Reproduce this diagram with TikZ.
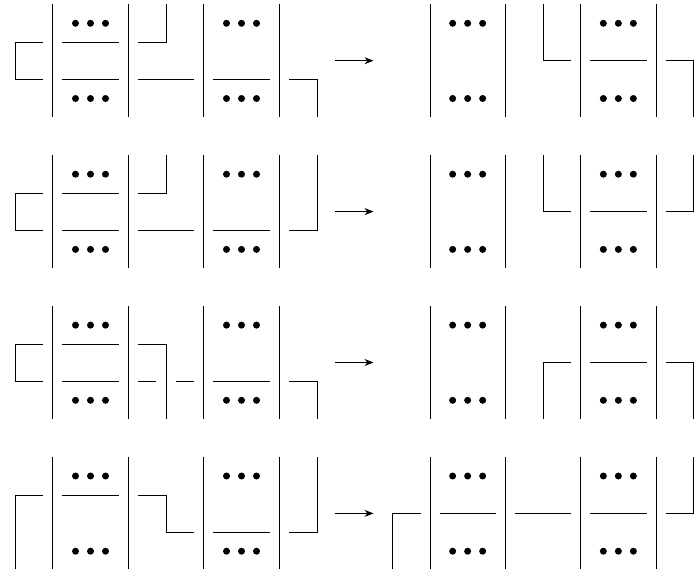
\documentclass[tikz,border=0pt]{standalone}
\usetikzlibrary{arrows.meta}
\newcommand\mydots[1]{%
  \foreach \yy in {19.3,94.5} {\foreach \dx in {-15,0,15} {\fill (#1+\dx,\yy) circle (3.5pt);}}}
\begin{document}
\begin{tikzpicture}[x=1pt,y=-1pt,
  wire/.style={draw=black,line width=0.9pt},
  sep/.style={draw=black,line width=0.9pt},
  arr/.style={draw=black,line width=0.9pt,-{Stealth[length=9pt,width=7pt]}}]
\useasboundingbox (0,0) rectangle (694,576);
\def\U{38.3}\def\M{56.7}\def\L{75.8}\def\B{112.7}
% columns: left 52.7,128.3,203.7,279.3 ; right 430,505.3,580.7,656
% ---------------- Row 1 ----------------
\begin{scope}[yshift=-4pt]
  \foreach \c in {52.7,128.3,203.7,279.3,430,505.3,580.7,656} \draw[sep] (\c,0) -- (\c,\B);
  \draw[wire] (43.2,\U) -- (14.95,\U) -- (14.95,\L) -- (43.2,\L);
  \draw[wire] (62.2,\U) -- (118.8,\U);
  \draw[wire] (62.2,\L) -- (118.8,\L);
  \draw[wire] (137.8,\U) -- (166.05,\U) -- (166.05,0);
  \draw[wire] (137.8,\L) -- (194.2,\L);
  \draw[wire] (213.2,\L) -- (269.8,\L);
  \draw[wire] (288.8,\L) -- (317.05,\L) -- (317.05,\B);
  \draw[arr] (335,\M) -- (373.5,\M);
  \draw[wire] (543.05,0) -- (543.05,\M) -- (571.2,\M);
  \draw[wire] (590.2,\M) -- (646.5,\M);
  \draw[wire] (665.5,\M) -- (693.75,\M) -- (693.75,\B);
  \mydots{90.5}\mydots{241.5}\mydots{467.65}\mydots{618.35}
\end{scope}
% ---------------- Row 2 ----------------
\begin{scope}[yshift=-154.9pt]
  \foreach \c in {52.7,128.3,203.7,279.3,430,505.3,580.7,656} \draw[sep] (\c,0) -- (\c,\B);
  \draw[wire] (43.2,\U) -- (14.95,\U) -- (14.95,\L) -- (43.2,\L);
  \draw[wire] (62.2,\U) -- (118.8,\U);
  \draw[wire] (62.2,\L) -- (118.8,\L);
  \draw[wire] (137.8,\U) -- (166.05,\U) -- (166.05,0);
  \draw[wire] (137.8,\L) -- (194.2,\L);
  \draw[wire] (213.2,\L) -- (269.8,\L);
  \draw[wire] (288.8,\L) -- (317.05,\L) -- (317.05,0);
  \draw[arr] (335,\M) -- (373.5,\M);
  \draw[wire] (543.05,0) -- (543.05,\M) -- (571.2,\M);
  \draw[wire] (590.2,\M) -- (646.5,\M);
  \draw[wire] (665.5,\M) -- (693.75,\M) -- (693.75,0);
  \mydots{90.5}\mydots{241.5}\mydots{467.65}\mydots{618.35}
\end{scope}
% ---------------- Row 3 ----------------
\begin{scope}[yshift=-305.8pt]
  \foreach \c in {52.7,128.3,203.7,279.3,430,505.3,580.7,656} \draw[sep] (\c,0) -- (\c,\B);
  \draw[wire] (43.2,\U) -- (14.95,\U) -- (14.95,\L) -- (43.2,\L);
  \draw[wire] (62.2,\U) -- (118.8,\U);
  \draw[wire] (62.2,\L) -- (118.8,\L);
  \draw[wire] (137.8,\U) -- (166.05,\U) -- (166.05,\B);
  \draw[wire] (137.8,\L) -- (155.5,\L);
  \draw[wire] (175.8,\L) -- (194.2,\L);
  \draw[wire] (213.2,\L) -- (269.8,\L);
  \draw[wire] (288.8,\L) -- (317.05,\L) -- (317.05,\B);
  \draw[arr] (335,\M) -- (373.5,\M);
  \draw[wire] (543.05,\B) -- (543.05,\M) -- (571.2,\M);
  \draw[wire] (590.2,\M) -- (646.5,\M);
  \draw[wire] (665.5,\M) -- (693.75,\M) -- (693.75,\B);
  \mydots{90.5}\mydots{241.5}\mydots{467.65}\mydots{618.35}
\end{scope}
% ---------------- Row 4 ----------------
\begin{scope}[yshift=-456.7pt]
  \foreach \c in {52.7,128.3,203.7,279.3,430,505.3,580.7,656} \draw[sep] (\c,0) -- (\c,\B);
  \draw[wire] (14.95,\B) -- (14.95,\U) -- (43.2,\U);
  \draw[wire] (62.2,\U) -- (118.8,\U);
  \draw[wire] (137.8,\U) -- (166.05,\U) -- (166.05,\L) -- (194.2,\L);
  \draw[wire] (213.2,\L) -- (269.8,\L);
  \draw[wire] (288.8,\L) -- (317.05,\L) -- (317.05,0);
  \draw[arr] (335,\M) -- (373.5,\M);
  \draw[wire] (392.25,\B) -- (392.25,\M) -- (420.5,\M);
  \draw[wire] (439.5,\M) -- (495.8,\M);
  \draw[wire] (514.8,\M) -- (571.2,\M);
  \draw[wire] (590.2,\M) -- (646.5,\M);
  \draw[wire] (665.5,\M) -- (693.75,\M) -- (693.75,0);
  \mydots{90.5}\mydots{241.5}\mydots{467.65}\mydots{618.35}
\end{scope}
\end{tikzpicture}
\end{document}
